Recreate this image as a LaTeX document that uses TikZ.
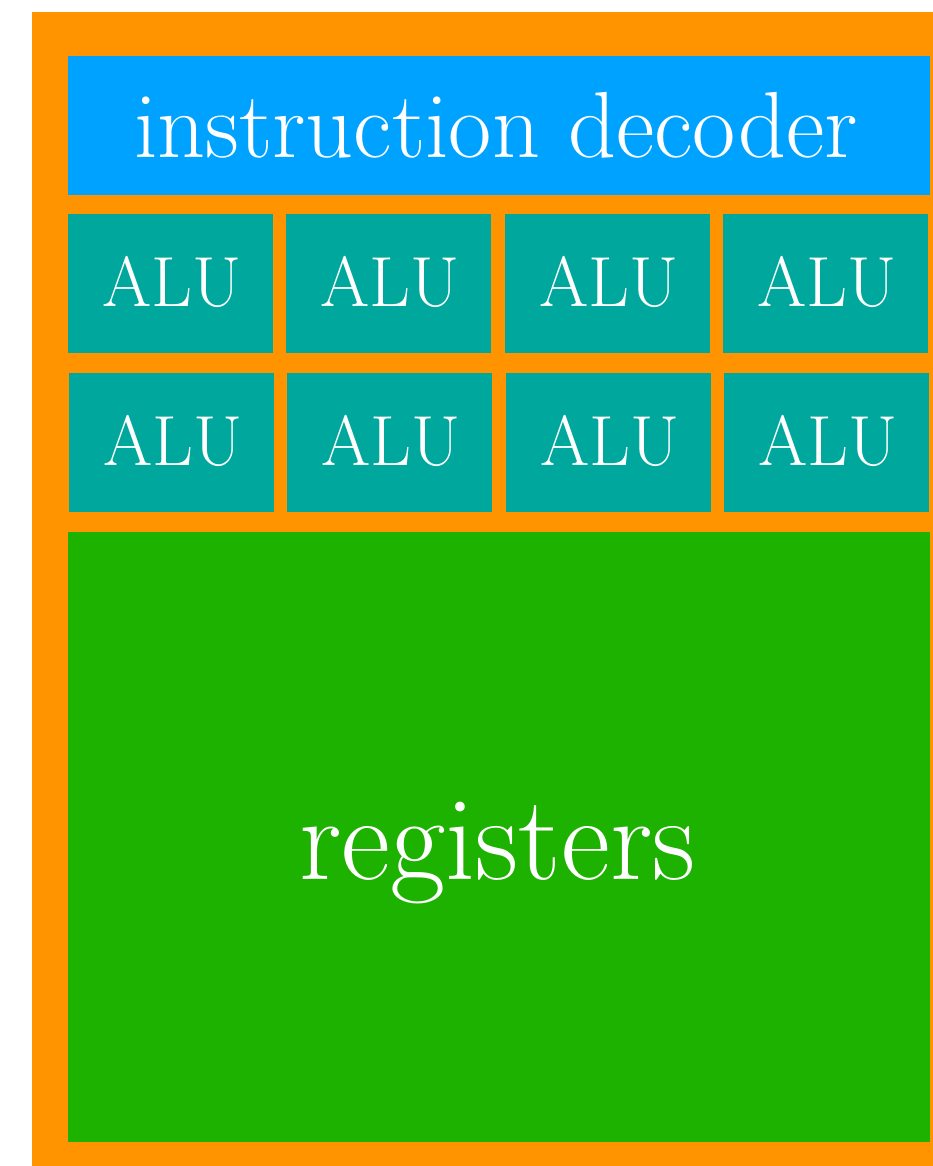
\documentclass[tikz,border=0pt]{standalone}
\definecolor{cpuorange}{HTML}{FF9300}
\definecolor{decblue}{HTML}{00A2FF}
\definecolor{aluteal}{HTML}{00A79D}
\definecolor{reggreen}{HTML}{1DB100}
\tikzset{
  blk/.style={inner sep=0pt, outer sep=0pt, draw=none, anchor=north west},
  lbl/.style={text=white, anchor=base, inner sep=0pt},
}
\newcommand{\alubox}[3]{%
  \node[blk, fill=aluteal, minimum width=205pt, minimum height=139pt] (#1) at (#2,#3) {};
  \node[lbl, font=\fontsize{71}{71}\selectfont] (#1t) at ([xshift=1.5pt,yshift=-23pt]#1.center) {ALU};
}
\begin{document}
\begin{tikzpicture}[x=1pt,y=-1pt]
\useasboundingbox (0,0) rectangle (933,1166);
\node[blk, fill=cpuorange, minimum width=901pt, minimum height=1154pt] (cpu) at (32,12) {};
\node[blk, fill=decblue, minimum width=862pt, minimum height=139pt] (dec) at (68,56) {};
\node[lbl, font=\fontsize{94}{94}\selectfont] (dect) at (496,158) {instruction decoder};
\alubox{a1}{68}{214}
\alubox{a2}{286}{214}
\alubox{a3}{505}{214}
\alubox{a4}{723}{214}
\alubox{b1}{69}{373}
\alubox{b2}{287}{373}
\alubox{b3}{506}{373}
\alubox{b4}{724}{373}
\node[blk, fill=reggreen, minimum width=862pt, minimum height=610pt] (reg) at (68,532) {};
\node[lbl, font=\fontsize{120}{120}\selectfont] (regt) at (497.5,879) {registers};
\end{tikzpicture}
\end{document}
